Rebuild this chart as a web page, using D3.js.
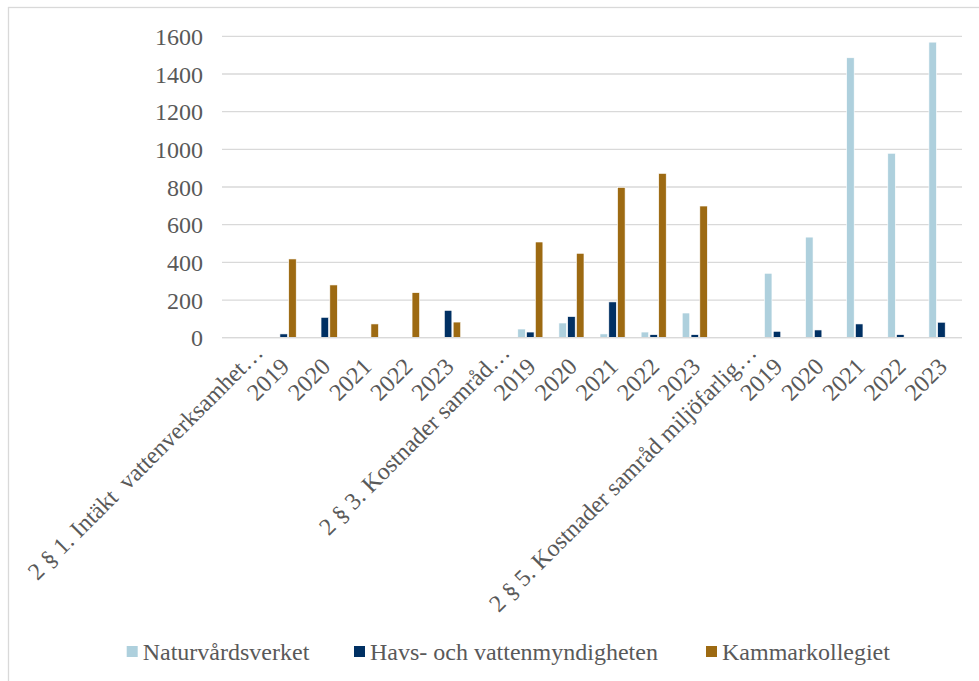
<!DOCTYPE html>
<html>
<head>
<meta charset="utf-8">
<script src="https://cdn.jsdelivr.net/npm/d3@7"></script>
<style>
  body { margin: 0; background: #fff; }
  text { font-family: 'Liberation Serif', 'Times New Roman', serif; fill: #595959; white-space: pre; }
</style>
</head>
<body>
<script>
// categories along the x axis (group label, then years)
const categories = [
  '2 § 1. Intäkt  vattenverksamhet…', '2019', '2020', '2021', '2022', '2023',
  '2 § 3. Kostnader samråd…', '2019', '2020', '2021', '2022', '2023',
  '2 § 5. Kostnader samråd miljöfarlig…', '2019', '2020', '2021', '2022', '2023'
]
const seriesNames = ['Naturvårdsverket', 'Havs- och vattenmyndigheten', 'Kammarkollegiet']
const naturvardsverket = [0, 0, 0, 0, 0, 0, 0, 46, 78, 20, 30, 131, 0, 342, 534, 1486, 979, 1569]
const havOchVatten = [0, 20, 108, 0, 0, 145, 0, 30, 112, 190, 16, 16, 0, 34, 41, 73, 16, 82]
const kammarkollegiet = [0, 418, 280, 73, 239, 83, 0, 508, 448, 798, 872, 699, 0, 0, 0, 0, 0, 0]
const yTicks = [0, 200, 400, 600, 800, 1000, 1200, 1400, 1600]
const colors = ['#aed0dd', '#003063', '#9d6a12']

const W = 979
const H = 681
const plotLeft = 222
const plotRight = 962
const plotTop = 36.3
const plotBottom = 337.7
const fontSize = 24

const svg = d3.select('body').append('svg')
  .attr('width', W)
  .attr('height', H)

// chart frame
svg.append('rect')
  .attr('x', 8.5)
  .attr('y', 7.5)
  .attr('width', W)
  .attr('height', H)
  .attr('fill', 'none')
  .attr('stroke', '#d9d9d9')
  .attr('stroke-width', 1.3)

const idx = categories.map((d, i) => i)
const x0 = d3.scaleBand()
  .domain(idx)
  .range([plotLeft, plotRight])
  .paddingInner(0.358)
  .paddingOuter(0.179)
const x1 = d3.scaleBand()
  .domain(d3.range(3))
  .range([0, x0.bandwidth()])
  .paddingInner(0.15)
  .paddingOuter(0.075)
const y = d3.scaleLinear()
  .domain([0, 1600])
  .range([plotBottom, plotTop])

// gridlines
svg.append('g')
  .selectAll('line')
  .data(yTicks)
  .join('line')
  .attr('x1', plotLeft)
  .attr('x2', plotRight)
  .attr('y1', d => y(d))
  .attr('y2', d => y(d))
  .attr('stroke', '#d9d9d9')
  .attr('stroke-width', 1.3)

// y axis labels
const yAxis = svg.append('g')
  .attr('transform', `translate(${plotLeft - 19},0)`)
  .call(d3.axisLeft(y).tickValues(yTicks).tickFormat(d3.format('d')).tickSize(0).tickPadding(0))
yAxis.select('.domain').remove()
yAxis.selectAll('text')
  .attr('font-size', fontSize)
  .attr('dy', '0.34em')
  .style('font-family', "'Liberation Serif', serif")
  .attr('fill', '#595959')

// bars
const seriesData = [naturvardsverket, havOchVatten, kammarkollegiet]
const groups = svg.append('g')
  .selectAll('g')
  .data(idx)
  .join('g')
  .attr('transform', d => `translate(${x0(d)},0)`)

groups.selectAll('rect')
  .data(i => seriesData.map((s, k) => ({ k, v: s[i] })).filter(d => d.v > 0))
  .join('rect')
  .attr('x', d => x1(d.k))
  .attr('width', x1.bandwidth())
  .attr('y', d => y(d.v))
  .attr('height', d => y(0) - y(d.v))
  .attr('fill', d => colors[d.k])
  .attr('stroke', '#fff')
  .attr('stroke-width', 0.6)

// baseline on top
svg.append('line')
  .attr('x1', plotLeft)
  .attr('x2', plotRight)
  .attr('y1', y(0))
  .attr('y2', y(0))
  .attr('stroke', '#d9d9d9')
  .attr('stroke-width', 1.3)

// rotated category labels
svg.append('g')
  .selectAll('text')
  .data(idx)
  .join('text')
  .attr('text-anchor', 'end')
  .attr('font-size', fontSize)
  .attr('transform', i => {
    const cx = x0(i) + x0.bandwidth() / 2
    const long = categories[i].length > 4
    return long
      ? `translate(${cx + 22},${354}) rotate(-45)`
      : `translate(${cx + 7},${368}) rotate(-45)`
  })
  .text(i => categories[i])

// legend
const legendX = [126.7, 354, 706]
const legend = svg.append('g')
  .selectAll('g')
  .data(seriesNames)
  .join('g')
  .attr('transform', (d, i) => `translate(${legendX[i]},652)`)
legend.append('rect')
  .attr('x', 0)
  .attr('y', -6)
  .attr('width', 11)
  .attr('height', 11)
  .attr('fill', (d, i) => colors[i])
legend.append('text')
  .attr('x', 16)
  .attr('y', 0)
  .attr('dy', '0.34em')
  .attr('font-size', fontSize)
  .text(d => d)
</script>
</body>
</html>
